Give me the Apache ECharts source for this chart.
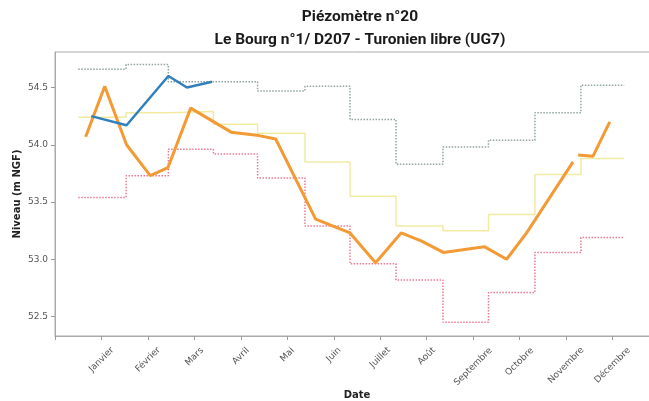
<!DOCTYPE html>
<html>
<head>
<meta charset="utf-8">
<script src="https://cdn.jsdelivr.net/npm/echarts@6/dist/echarts.min.js"></script>
<style>
html, body { margin: 0; padding: 0; background: #fff; }
#main { width: 649px; height: 401px; }
</style>
</head>
<body>
<div id="main"></div>
<script>
// axe des abscisses : 1 = Janvier ... 12 = Décembre
const mois = ['Janvier', 'Février', 'Mars', 'Avril', 'Mai', 'Juin', 'Juillet', 'Août', 'Septembre', 'Octobre', 'Novembre', 'Décembre'];

// bornes des paliers mensuels (en mois)
const bornesPaliers = [0.5, 1.53, 2.44, 3.41, 4.36, 5.38, 6.35, 7.34, 8.35, 9.33, 10.33, 11.32, 12.25];
const niveauxHauts = [54.66, 54.70, 54.55, 54.55, 54.47, 54.51, 54.22, 53.83, 53.98, 54.04, 54.28, 54.52];
const niveauxMoyens = [54.24, 54.28, 54.29, 54.18, 54.10, 53.85, 53.55, 53.29, 53.25, 53.39, 53.74, 53.88];
const niveauxBas = [53.54, 53.73, 53.96, 53.92, 53.71, 53.29, 52.96, 52.82, 52.45, 52.71, 53.06, 53.19];

// chronique orange (null = interruption)
const orangeX = [0.66, 1.07, 1.54, 2.05, 2.43, 2.92, 3.79, 4.39, 4.75, 5.61, 6.35, 6.90, 7.45, 7.88, 8.36, 9.24, 9.72, 10.15, 11.15, 11.2, 11.26, 11.58, 11.94];
const orangeY = [54.07, 54.51, 54.00, 53.73, 53.80, 54.32, 54.11, 54.08, 54.05, 53.35, 53.23, 52.97, 53.23, 53.16, 53.06, 53.11, 53.00, 53.23, 53.85, null, 53.91, 53.90, 54.20];

// chronique bleue
const bleuX = [0.78, 1.54, 2.44, 2.84, 3.38];
const bleuY = [54.25, 54.17, 54.60, 54.50, 54.55];

function paliers(niveaux) {
    return bornesPaliers.map((x, i) => [x, niveaux[Math.min(i, niveaux.length - 1)]]);
}
function serie(xs, ys) {
    return xs.map((x, i) => [x, ys[i] === null ? '-' : ys[i]]);
}

// labels inclinés centrés sous le tick (comme matplotlib) : on décale chaque label selon sa longueur
const ctx = document.createElement('canvas').getContext('2d');
ctx.font = '9px "DejaVu Sans"';
const rich = {};
mois.forEach((m, i) => {
    const d = Math.round(ctx.measureText(m).width / 2);
    rich['m' + i] = {
        fontFamily: 'DejaVu Sans',
        fontSize: 9,
        color: '#555',
        padding: [d, d, 0, 0]
    };
});

let myChart = echarts.init(document.getElementById('main'));
let option = {
    animation: false,
    backgroundColor: '#fff',
    title: {
        text: 'Piézomètre n°20\nLe Bourg n°1/ D207 - Turonien libre (UG7)',
        left: 355,
        top: 1,
        textAlign: 'center',
        textStyle: {
            fontFamily: 'Roboto',
            fontWeight: 'bold',
            fontSize: 15.5,
            lineHeight: 23,
            color: '#1a1a1a'
        }
    },
    grid: {
        left: 55,
        top: 52,
        width: 604,
        height: 284,
        outerBoundsMode: 'none',
        containLabel: false,
        show: true,
        borderColor: '#aaa',
        borderWidth: 1
    },
    xAxis: {
        type: 'value',
        min: 0,
        max: 13,
        interval: 1,
        name: 'Date',
        nameLocation: 'middle',
        nameGap: 54,
        nameMoveOverlap: false,
        nameTextStyle: {
            fontFamily: 'DejaVu Sans',
            fontWeight: 'bold',
            fontSize: 10,
            color: '#222'
        },
        axisLine: { lineStyle: { color: '#aaa' } },
        axisTick: { length: 4, lineStyle: { color: '#999' } },
        splitLine: { show: false },
        axisLabel: {
            rotate: 45,
            align: 'center',
            verticalAlign: 'middle',
            margin: 13,
            rich: rich,
            formatter: function (v) {
                let i = Math.round(v);
                if (i < 1 || i > 12) return '';
                return '{m' + (i - 1) + '|' + mois[i - 1] + '}';
            }
        }
    },
    yAxis: {
        type: 'value',
        min: 52.33,
        max: 54.81,
        splitNumber: 5,
        name: 'Niveau (m NGF)',
        nameLocation: 'middle',
        nameGap: 33,
        nameMoveOverlap: false,
        nameTextStyle: {
            fontFamily: 'DejaVu Sans',
            fontWeight: 'bold',
            fontSize: 10,
            color: '#222'
        },
        axisLine: { show: true, lineStyle: { color: '#aaa' } },
        axisTick: { show: true, length: 4, lineStyle: { color: '#999' } },
        splitLine: { show: false },
        axisLabel: {
            showMinLabel: false,
            showMaxLabel: false,
            margin: 7,
            fontFamily: 'DejaVu Sans',
            fontSize: 9,
            color: '#555',
            formatter: v => v.toFixed(1)
        }
    },
    series: [
        {
            type: 'line',
            step: 'end',
            symbol: 'none',
            data: paliers(niveauxHauts),
            lineStyle: { color: '#8fa59e', width: 1.5, type: [1.5, 1.5] }
        },
        {
            type: 'line',
            step: 'end',
            symbol: 'none',
            data: paliers(niveauxMoyens),
            lineStyle: { color: '#f1eba2', width: 1.5 }
        },
        {
            type: 'line',
            step: 'end',
            symbol: 'none',
            data: paliers(niveauxBas),
            lineStyle: { color: '#ea7b92', width: 1.5, type: [1.5, 1.5] }
        },
        {
            type: 'line',
            symbol: 'none',
            connectNulls: false,
            data: serie(orangeX, orangeY),
            lineStyle: { color: '#f39a35', width: 3 }
        },
        {
            type: 'line',
            symbol: 'none',
            data: serie(bleuX, bleuY),
            lineStyle: { color: '#2f80bb', width: 2.5 }
        }
    ]
};
myChart.setOption(option);
</script>
</body>
</html>
